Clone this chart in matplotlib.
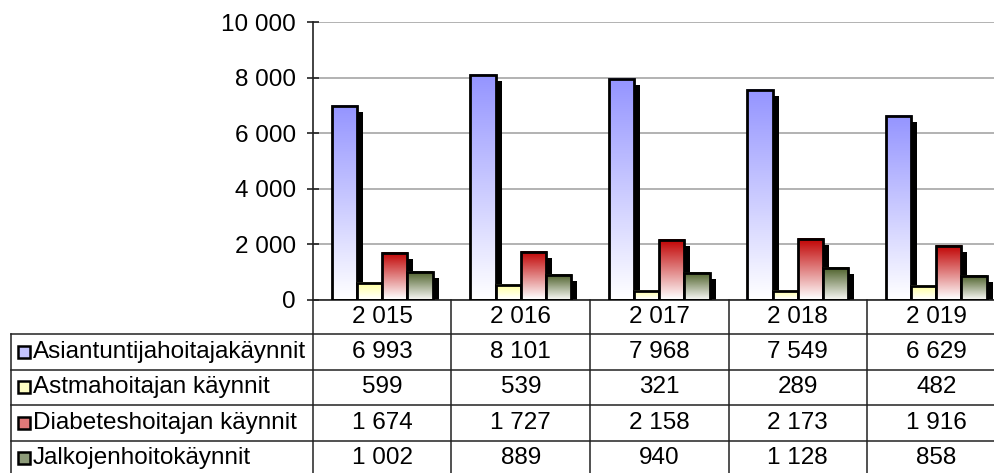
import matplotlib
matplotlib.use("Agg")
import matplotlib.pyplot as plt
import numpy as np
from matplotlib.patches import Rectangle
from matplotlib.colors import LinearSegmentedColormap
from matplotlib.lines import Line2D
from matplotlib import transforms
from matplotlib.ticker import FuncFormatter

plt.rcParams['font.family'] = ['Liberation Sans', 'DejaVu Sans']

years = [2015, 2016, 2017, 2018, 2019]
series_names = ["Asiantuntijahoitajakäynnit", "Astmahoitajan käynnit",
                "Diabeteshoitajan käynnit", "Jalkojenhoitokäynnit"]
asiantuntija = [6993, 8101, 7968, 7549, 6629]
astma = [599, 539, 321, 289, 482]
diabetes = [1674, 1727, 2158, 2173, 1916]
jalkojen = [1002, 889, 940, 1128, 858]
series_values = [asiantuntija, astma, diabetes, jalkojen]
top_colors = ["#9494FF", "#FFFF99", "#C00000", "#4A5E26"]
bottom_colors = ["#FFFFFF", "#FFFFFF", "#FFFFFF", "#F4F4F0"]
key_colors = ["#C4C4FF", "#FFFFC4", "#E07878", "#8C9A78"]
yticks = [0, 2000, 4000, 6000, 8000, 10000]

W, H = 995, 473
fig = plt.figure(figsize=(W / 100, H / 100), dpi=100)

def fx(px):
    return px / W

def fy(py):
    return 1 - py / H

ax_left, ax_right, ax_top, ax_bot = 313, 1005.5, 22.3, 299.5
ax = fig.add_axes([fx(ax_left), fy(ax_bot), fx(ax_right - ax_left), fy(ax_top) - fy(ax_bot)])

def fmt(v, pos=None):
    return f"{int(v):,}".replace(",", " ")

FS = 17.5
n = len(series_values)
bw = 0.182
x = np.arange(len(years))
shadow_tr = transforms.ScaledTranslation(6 / 100, -6 / 100, fig.dpi_scale_trans)
grad = np.linspace(1, 0, 256).reshape(-1, 1)
for i, (vals, tc, bc) in enumerate(zip(series_values, top_colors, bottom_colors)):
    cmap = LinearSegmentedColormap.from_list(f"g{i}", [bc, tc])
    for xi, v in zip(x, vals):
        x0 = xi + (i - n / 2) * bw
        sh = Rectangle((x0, 0), bw, v, facecolor="black", edgecolor="none",
                       transform=ax.transData + shadow_tr, zorder=2 + i * 0.1)
        ax.add_patch(sh)
        ax.imshow(grad, extent=[x0, x0 + bw, 0, v], aspect="auto", cmap=cmap,
                  vmin=0, vmax=1, zorder=2.5 + i * 0.1, interpolation="bilinear")
        ax.add_patch(Rectangle((x0, 0), bw, v, facecolor="none", edgecolor="black",
                               linewidth=2.0, zorder=2.55 + i * 0.1))

ax.set_xlim(-0.5, len(years) - 0.5)
ax.set_ylim(0, 10000)
ax.set_yticks(yticks)
ax.yaxis.set_major_formatter(FuncFormatter(fmt))
ax.set_xticks([])
ax.grid(axis="y", color="#A6A6A6", linewidth=1.2, zorder=0)
ax.set_axisbelow(True)
for s in ["top", "right"]:
    ax.spines[s].set_visible(False)
ax.spines["left"].set_color("#222222")
ax.spines["left"].set_linewidth(1.2)
ax.spines["bottom"].set_color("#222222")
ax.spines["bottom"].set_linewidth(1.2)
ax.tick_params(axis="y", direction="inout", length=9, width=1.2, color="#222222",
               labelsize=FS, pad=8)
ax.patch.set_alpha(0)

# Data table
row_edges = [299.5, 334, 369.5, 405, 440.5, 476]
line_kw = dict(color="#222222", linewidth=1.1)
blend = transforms.blended_transform_factory(ax.transData, fig.transFigure)
for k in range(len(years) + 1):
    fig.add_artist(Line2D([k - 0.5, k - 0.5], [fy(row_edges[0]), fy(row_edges[-1])],
                          transform=blend, **line_kw))
fig.add_artist(Line2D([fx(11), fx(11)], [fy(row_edges[1]), fy(row_edges[-1])],
                      transform=fig.transFigure, **line_kw))
for py in row_edges[1:]:
    fig.add_artist(Line2D([fx(11), fx(1010)], [fy(py), fy(py)],
                          transform=fig.transFigure, **line_kw))

hy = fy((row_edges[0] + row_edges[1]) / 2)
for xi, yr in zip(x, years):
    fig.text(xi, hy, fmt(yr), transform=blend, ha="center", va="center", fontsize=FS)

for r, (name, vals, kc) in enumerate(zip(series_names, series_values, key_colors)):
    cy = (row_edges[r + 1] + row_edges[r + 2]) / 2
    fig.add_artist(Rectangle((fx(18), fy(cy + 6)), fx(12), fy(cy - 6) - fy(cy + 6),
                             facecolor=kc, edgecolor="black", linewidth=1.8,
                             transform=fig.transFigure))
    fig.text(fx(33), fy(cy), name, ha="left", va="center", fontsize=FS)
    for xi, v in zip(x, vals):
        fig.text(xi, fy(cy), fmt(v), transform=blend, ha="center", va="center", fontsize=FS)

fig.savefig("out.png", dpi=100)
